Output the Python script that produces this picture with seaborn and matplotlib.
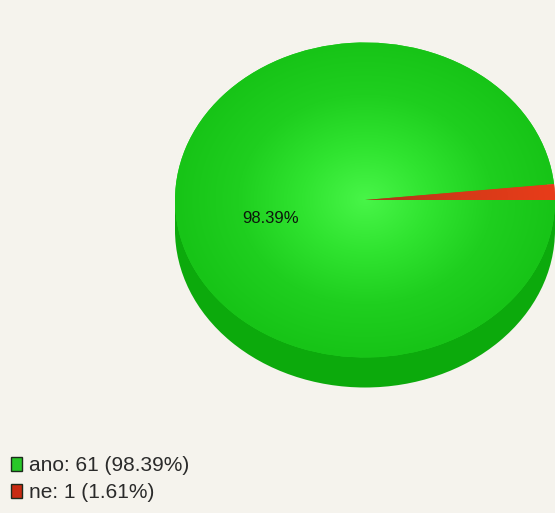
import numpy as np
import matplotlib
matplotlib.use("Agg")
import matplotlib.pyplot as plt
import seaborn as sns
from matplotlib.patches import Ellipse, Rectangle, Patch
from matplotlib.colors import LinearSegmentedColormap

# Survey answers
labels = ["ano", "ne"]
counts = [61, 1]
top_colors = ["#22d022", "#e23a18"]
legend_colors = ["#28c828", "#c82a12"]

total = sum(counts)
percents = [100.0 * c / total for c in counts]

sns.set_theme(style="white")
plt.rcParams["font.family"] = ["Liberation Sans", "DejaVu Sans"]

bg = "#f5f3ed"
W, H = 555, 513
fig = plt.figure(figsize=(W / 100, H / 100), dpi=100, facecolor=bg)
ax = fig.add_axes([0, 0, 1, 1])
ax.set_facecolor(bg)
ax.axis("off")

# pie geometry (pixels): centre, horizontal / vertical radius, thickness
cx, cy = 365, 200
rx, ry = 190, 157.5
depth = 30 / ry

# base of the disc (side wall)
side_green = "#0caa0c"
ax.add_patch(Ellipse((0, -depth), 2, 2, facecolor=side_green, lw=0, zorder=0.5))
ax.add_patch(Rectangle((-1, -depth), 2, depth, facecolor=side_green, lw=0, zorder=0.5))


def pct_fmt(p):
    return f"{p:.2f}%" if p > 5 else ""


wedges, _, autotexts = ax.pie(
    counts,
    colors=top_colors,
    startangle=0,
    counterclock=False,
    radius=1,
    center=(0, 0),
    autopct=pct_fmt,
    pctdistance=0.5,
    wedgeprops=dict(linewidth=0),
    textprops=dict(color="#0c160c", fontsize=12),
)

# label sits at mid-thickness of the disc
for t in autotexts:
    x, y = t.get_position()
    t.set_position((x, y - depth / 2))
    t.set_zorder(4)

# radial shading on the top face
n = 400
gx, gy = np.meshgrid(np.linspace(-1, 1, n), np.linspace(-1, 1, n))
r = np.sqrt(gx ** 2 + gy ** 2)
shades = [
    LinearSegmentedColormap.from_list("g", ["#48f548", "#30e430", "#1fcf1f", "#17c417"]),
    LinearSegmentedColormap.from_list("r", ["#a83818", "#d63a18", "#e83c1a"]),
]
for w, cmap in zip(wedges, shades):
    im = ax.imshow(r, extent=(-1, 1, -1, 1), origin="lower", cmap=cmap,
                   vmin=0, vmax=1, aspect="auto", interpolation="bilinear", zorder=2)
    im.set_clip_path(w)

ax.set_aspect("auto")
ax.set_xlim(-cx / rx, (W - cx) / rx)
ax.set_ylim(-(H - cy) / ry, cy / ry)

handles = [Patch(facecolor=c, edgecolor="#1c2a1c", lw=1) for c in legend_colors]
leg_labels = [f"{lab}: {c} ({p:.2f}%)" for lab, c, p in zip(labels, counts, percents)]
fig.legend(handles, leg_labels, loc="upper left",
           bbox_to_anchor=(11 / W, 1 - 456 / H), frameon=False,
           fontsize=15, handlelength=0.55, handleheight=0.68,
           handletextpad=0.3, labelspacing=0.4, borderpad=0, borderaxespad=0,
           labelcolor="#2a2a2a")

fig.savefig("out.png", dpi=100, facecolor=bg)
